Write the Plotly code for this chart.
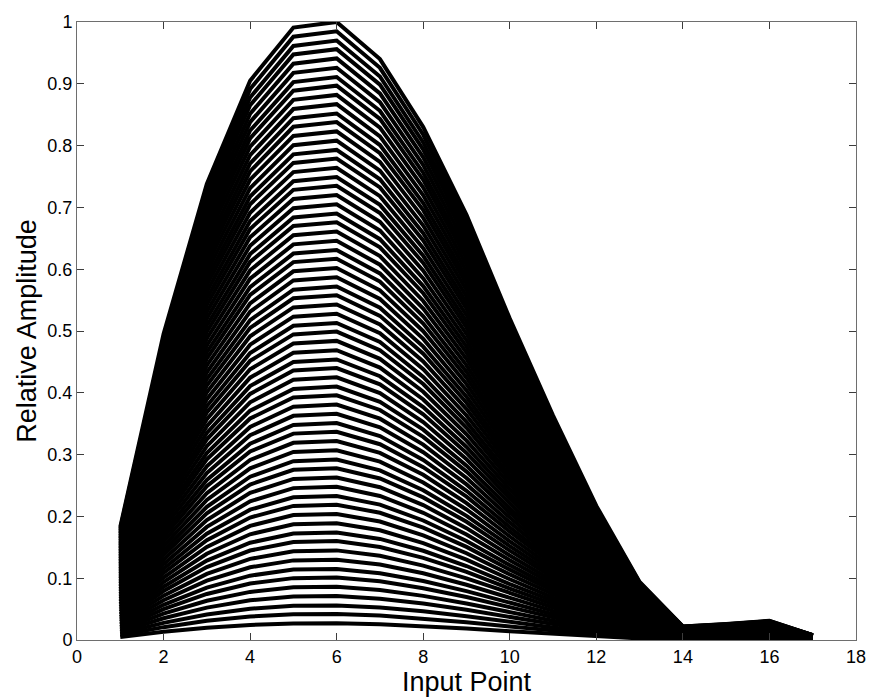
import plotly.graph_objects as go

# Input point positions along the x axis
input_points = [1, 2, 3, 4, 5, 6, 7, 8, 9, 10, 11, 12, 13, 14, 15, 16, 17]

# Normalised shape of the outermost (tallest) curve
envelope = [0.183, 0.495, 0.738, 0.905, 0.991, 1.0, 0.940, 0.830, 0.688,
            0.520, 0.363, 0.217, 0.094, 0.022, 0.026, 0.031, 0.008]

# Peak amplitude (value at input point 6) of each curve in the family
peak_levels = [0.027, 0.042, 0.056, 0.071, 0.086, 0.101, 0.115, 0.130, 0.145, 0.160,
               0.174, 0.189, 0.204, 0.219, 0.233, 0.248, 0.263, 0.278, 0.292, 0.307,
               0.322, 0.337, 0.351, 0.366, 0.381, 0.396, 0.410, 0.425, 0.440, 0.454,
               0.469, 0.484, 0.499, 0.513, 0.528, 0.543, 0.558, 0.572, 0.587, 0.602,
               0.617, 0.631, 0.646, 0.661, 0.676, 0.690, 0.705, 0.720, 0.735, 0.749,
               0.764, 0.779, 0.793, 0.808, 0.823, 0.838, 0.852, 0.867, 0.882, 0.897,
               0.911, 0.926, 0.941, 0.956, 0.970, 0.985, 1.000]

x_tick_vals = [0, 2, 4, 6, 8, 10, 12, 14, 16, 18]
y_tick_vals = [0, 0.1, 0.2, 0.3, 0.4, 0.5, 0.6, 0.7, 0.8, 0.9, 1.0]
y_tick_text = ["0", "0.1", "0.2", "0.3", "0.4", "0.5", "0.6", "0.7", "0.8", "0.9", "1"]

fig = go.Figure()
for lvl in peak_levels:
    fig.add_trace(go.Scatter(
        x=input_points,
        y=[lvl * v for v in envelope],
        mode="lines",
        line=dict(color="black", width=4),
        hoverinfo="skip",
        showlegend=False,
    ))

font_family = "Liberation Sans, Arial, sans-serif"
axis_common = dict(
    showgrid=False, zeroline=False, showline=True, mirror="ticks",
    linecolor="#6e6e6e", linewidth=1, ticks="inside", ticklen=7,
    tickcolor="#3c3c3c", tickwidth=1,
    tickfont=dict(family=font_family, size=18, color="black"),
)

fig.update_layout(
    width=878, height=697,
    margin=dict(l=77, r=13, t=17, b=57),
    paper_bgcolor="white", plot_bgcolor="white",
    xaxis=dict(range=[0, 18], tickvals=x_tick_vals, **axis_common,
               title=dict(text="Input Point", font=dict(family=font_family, size=27, color="black"),
                          standoff=0)),
    yaxis=dict(range=[0, 1], tickvals=y_tick_vals, ticktext=y_tick_text, **axis_common,
               title=dict(text="Relative Amplitude", font=dict(family=font_family, size=27, color="black"),
                          standoff=2)),
)

fig.write_html("out.html")
